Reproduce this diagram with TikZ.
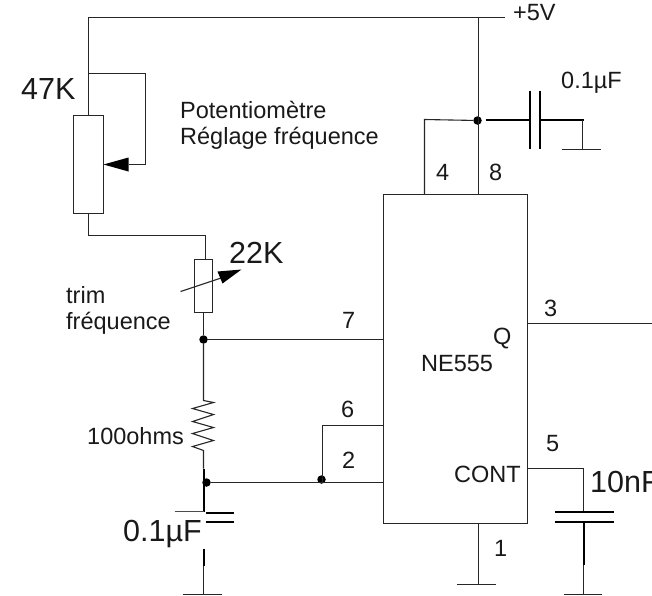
\documentclass[tikz,border=0pt]{standalone}
\usepackage{fontspec}
\setmainfont{Liberation Sans}
\begin{document}
\begin{tikzpicture}[x=1pt,y=-1pt,line join=miter,
  wire/.style={line width=1.1pt,draw=black!85},
  thick wire/.style={line width=2pt,draw=black},
  lbl/.style={anchor=base west,inner sep=0pt,font=\fontsize{23.5}{26}\selectfont,text=black!90},
  big/.style={anchor=base west,inner sep=0pt,font=\fontsize{30.5}{34}\selectfont,text=black!90},
  part/.style={draw=black!85,line width=1.1pt,fill=white,inner sep=0pt,minimum width=0pt},
  jdot/.style={circle,fill=black,inner sep=0pt,minimum size=8.5pt},
  tip/.style={fill=black,draw=none}]
\useasboundingbox (0,0) rectangle (652,595);
\begin{scope}[shift={(0.5,0.5)}]
% coordinates
\coordinate (tl) at (88,17); \coordinate (tend) at (504,17); \coordinate (tv) at (478,17);
\coordinate (w1) at (88,73); \coordinate (w2) at (145,73); \coordinate (w3) at (145,164);
\coordinate (w4) at (128,164); \coordinate (w5) at (103,164);
\coordinate (b1) at (88,235); \coordinate (b2) at (205,235);
% parts
\node[part,minimum width=30pt,minimum height=98pt] (pot) at (88,164) {};
\node[part,minimum width=18pt,minimum height=53pt] (trim) at (203,285.5) {};
\node[part,minimum width=144pt,minimum height=329pt] (ic) at (455,358.5) {};
% top rail and potentiometer
\draw[wire] (tend) -- (tl) -- (pot.north);
\draw[wire] (w1) -- (w2) -- (w3) -- (w4);
\fill[tip] (w5) -- (128,157) -- (128,171) -- cycle;
\draw[wire] (pot.south) |- (b2) -- (b2 |- trim.north);
% trim
\coordinate (ta) at (180,291); \coordinate (tb) at (241,269);
\draw[wire] (ta) -- (222,277);
\fill[tip] (tb) -- (217,271) -- (222,283) -- cycle;
\node[jdot] (j7) at (203,339) {};
\node[jdot] (jb) at (206,482) {};
\node[jdot] (j62) at (321,479) {};
\node[jdot] (jt) at (477,120) {};
\draw[wire] (trim.south) -- (j7);
\draw[wire] (j7) -- (383,339);
% resistor and timing cap
\coordinate (r0) at (203,400); \coordinate (r1) at (203,450);
\draw[wire] (j7) -- (r0) -- (213,402) -- (192,408) -- (213,414) -- (192,421) -- (213,427) -- (192,433) -- (213,440) -- (192,446) -- (r1) -- (203,468);
\coordinate (c1) at (203,511);
\draw[thick wire] (203,468) -- (c1);
\draw[line width=.6pt,draw=black!70] (174,511) -- (c1);
\draw[thick wire] (205,512) -- (233,512);
\draw[thick wire] (205,521) -- (233,521);
\coordinate (g1) at (203,594);
\draw[thick wire] (203,548) -- (203,565);
\draw[wire] (203,565) -- (g1);
\draw[wire] (182,594) -- (221,594);
\draw[wire] (jb) -- (383,482);
\draw[wire] (322,482) -- (322,425) -- (383,425);
% pins 4, 8 and decoupling
\draw[wire] (tv) -- (478,194);
\draw[wire] (jt) -- (424,119) -- (424,194);
\draw[thick wire] (485,119) -- (530,119);
\draw[thick wire] (529.5,90) -- (529.5,148);
\draw[thick wire] (539.5,90) -- (539.5,148);
\draw[thick wire] (540,119) -- (583,119);
\draw[wire] (582,119) -- (582,149);
\draw[wire] (561,149) -- (600,149);
% outputs
\draw[wire] (ic.east |- 0,323) -- (652,323);
\draw[wire] (ic.east |- 0,468) -- (583,468) -- (583,511);
\draw[thick wire] (554,511) -- (613,511);
\draw[thick wire] (554,521) -- (613,521);
\draw[thick wire] (583,521) -- (583,564);
\draw[wire] (583,564) -- (583,594);
\draw[wire] (563,594) -- (601,594);
\draw[wire] (478,523) -- (478,584);
\draw[wire] (456,584) -- (495,584);
\end{scope}
% labels
\node[big] (l47) at (21,99) {47K};
\node[big] (l22) at (229,263) {22K};
\node[lbl] (lp) at (180,118) {Potentiomètre};
\node[lbl] (lr) at (180,144) {Réglage fréquence};
\node[lbl] (lt) at (66,303) {trim};
\node[lbl] (lf) at (66,329) {fréquence};
\node[lbl] (lo) at (87,444) {100ohms};
\node[big] (lc) at (123,541) {0.1µF};
\node[lbl] (lv) at (513,20) {+5V};
\node[lbl] (lct) at (561,88) {0.1µF};
\node[lbl] (p4) at (436,180) {4};
\node[lbl] (p8) at (489,180) {8};
\node[lbl] (p3) at (544,316) {3};
\node[lbl] (lq) at (493,344) {Q};
\node[lbl] (lne) at (421,371) {NE555};
\node[lbl] (p5) at (546,451) {5};
\node[lbl] (lcn) at (454,482) {CONT};
\node[big] (ln) at (590,492) {10nF};
\node[lbl] (p1) at (494,556) {1};
\node[lbl] (p7) at (342,328) {7};
\node[lbl] (p6) at (341,417) {6};
\node[lbl] (p2) at (342,468) {2};
\end{tikzpicture}
\end{document}
